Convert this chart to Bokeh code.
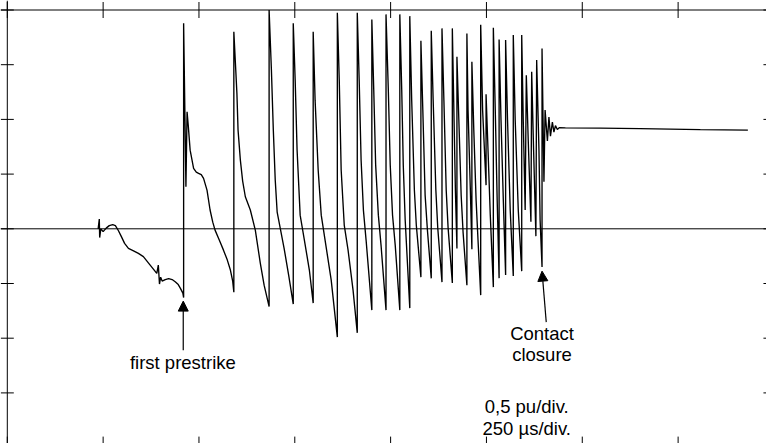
import math
from bokeh.plotting import figure
from bokeh.models import Range1d, Span, Arrow, NormalHead, Label
from bokeh.embed import file_html
from bokeh.resources import INLINE

# time in microseconds, voltage in pu
t_us = [237, 240, 241, 244, 250, 258, 266, 275, 282, 290, 297, 306, 316, 328, 342, 355, 368, 379, 390, 394,
        397, 400, 404, 412, 421, 430, 438, 446, 452, 458, 460,
        460, 466, 469, 472, 477, 486, 493, 499, 506, 512, 521, 529, 536, 542, 553, 564, 574, 582, 588, 591,
        591, 596, 599, 602, 608, 614, 621, 634, 647, 660, 670, 683,
        683, 689, 694, 699, 704, 712, 722, 734, 746,
        746, 751, 756, 764, 775, 788, 798,
        798, 803, 811, 819, 829, 845, 861,
        861, 866, 871, 879, 889, 902, 913,
        913, 918, 923, 929, 936, 951,
        951, 956, 961, 968, 975, 988,
        988, 994, 999, 1005, 1012, 1024,
        1024, 1029, 1033, 1038, 1050,
        1050, 1055, 1062, 1067, 1079,
        1079, 1084, 1090, 1096, 1106,
        1106, 1111, 1118, 1123, 1134,
        1134, 1139, 1145, 1150, 1161,
        1161, 1165, 1169, 1173,
        1173, 1178, 1184, 1189, 1199,
        1199, 1202, 1208, 1212,
        1212, 1217, 1223, 1228, 1235,
        1235, 1240, 1249,
        1249, 1255, 1260, 1268,
        1268, 1273, 1278, 1283,
        1283, 1288, 1294, 1300,
        1300, 1305, 1312, 1320,
        1320, 1325, 1333, 1342,
        1342, 1346, 1351,
        1354, 1359, 1366,
        1368, 1373, 1379,
        1381, 1387, 1390, 1395,
        1395, 1400, 1403, 1409, 1413, 1417, 1422, 1426, 1430, 1435, 1440, 1456, 1547, 1651, 1808, 1932]
v_pu = [0.0, 0.09, -0.08, 0.0, -0.026, 0.006, 0.029, 0.038, 0.029, -0.018, -0.067, -0.133, -0.179, -0.199, -0.225, -0.254, -0.311, -0.359, -0.408, -0.332,
        -0.505, -0.442, -0.478, -0.464, -0.455, -0.464, -0.484, -0.510, -0.547, -0.588, -0.629,
        1.878, 0.384, 1.069, 0.948, 0.719, 0.552, 0.518, 0.506, 0.495, 0.461, 0.354, 0.172, 0.061, -0.012, -0.103, -0.195, -0.286, -0.377, -0.478, -0.579,
        1.801, 1.451, 1.238, 0.902, 0.628, 0.436, 0.293, 0.172, -0.012, -0.313, -0.515, -0.711,
        2.0, 1.451, 0.902, 0.445, 0.153, 0.006, -0.176, -0.423, -0.688,
        1.878, 1.359, 0.719, 0.125, -0.103, -0.377, -0.679,
        1.801, 1.176, 0.537, 0.125, -0.103, -0.469, -0.990,
        1.974, 1.359, 0.537, 0.034, -0.195, -0.560, -0.951,
        1.974, 1.359, 0.628, 0.171, -0.103, -0.743,
        1.914, 1.268, 0.582, 0.125, -0.149, -0.743,
        1.960, 1.268, 0.582, 0.125, -0.149, -0.743,
        1.960, 1.268, 0.582, 0.080, -0.725,
        1.944, 1.176, 0.353, 0.034, -0.442,
        1.719, 1.085, 0.308, -0.012, -0.453,
        1.810, 1.176, 0.354, 0.006, -0.487,
        1.832, 1.176, 0.354, 0.006, -0.496,
        1.832, 1.085, 0.354, -0.179,
        1.572, 0.994, 0.308, -0.030, -0.515,
        1.786, 1.085, 0.354, -0.186,
        1.527, 0.902, 0.262, -0.103, -0.606,
        1.865, 1.085, 0.399,
        1.229, 0.628, 0.125, -0.533,
        1.837, 1.085, 0.262, -0.451,
        1.731, 0.994, 0.262, -0.423,
        1.725, 0.994, 0.171, -0.432,
        1.771, 0.994, 0.171, -0.387,
        1.771, 0.994, 0.171,
        1.404, 0.810, 0.064,
        1.435, 0.719, -0.067,
        1.542, 0.719, 0.080, -0.350,
        1.649, 0.430, 1.085, 0.802, 1.021, 0.847, 0.975, 0.884, 0.943, 0.907, 0.925, 0.923, 0.920, 0.916, 0.907, 0.902]

x_ticks = [0, 250, 500, 750, 1000, 1250, 1500, 1750, 2000]
y_ticks = [-2.0, -1.5, -1.0, -0.5, 0.0, 0.5, 1.0, 1.5, 2.0]

FONT = "Liberation Sans"
W, H = 766, 443
US_PER_PX = 250 / 95.83      # 250 us per division
PU_PER_PX = 0.5 / 54.7       # 0.5 pu per division
X0 = -6.8 * US_PER_PX
Y1 = 2.0 + 9.5 * PU_PER_PX
xr = Range1d(X0, X0 + W * US_PER_PX)
yr = Range1d(Y1 - H * PU_PER_PX, Y1)

p = figure(width=W, height=H, output_backend="svg", toolbar_location=None,
           x_range=xr, y_range=yr, x_axis_location=None, y_axis_location=None,
           min_border_left=0, min_border_top=0, min_border_right=0, min_border_bottom=0)
p.grid.visible = False
p.outline_line_color = None
p.background_fill_color = "white"
p.border_fill_color = "white"

# frame (left and top sides; right and bottom lie outside the view), zero line
p.add_layout(Span(location=x_ticks[0], dimension="height", line_color="black", line_width=1))
p.add_layout(Span(location=y_ticks[-1], dimension="width", line_color="black", line_width=1))
p.add_layout(Span(location=0, dimension="width", line_color="black", line_width=1))

# inward tick marks on all four sides
p.scatter([x_ticks[0]] * len(y_ticks), y_ticks, marker="dash", size=13, line_color="black", line_width=1)
p.scatter(x_ticks, [y_ticks[-1]] * len(x_ticks), marker="dash", angle=math.pi / 2, size=16,
          line_color="black", line_width=1)
p.scatter([x_ticks[-1]] * len(y_ticks), y_ticks, marker="dash", size=21, line_color="black", line_width=1)
p.scatter(x_ticks, [y_ticks[0]] * len(x_ticks), marker="dash", angle=math.pi / 2, size=22,
          line_color="black", line_width=1)

p.line(t_us, v_pu, line_color="black", line_width=1.35)

p.add_layout(Arrow(end=NormalHead(size=10, fill_color="black", line_color="black"),
                   x_start=459, y_start=-1.110, x_end=459, y_end=-0.661,
                   line_color="black", line_width=1.2))
p.add_layout(Arrow(end=NormalHead(size=10, fill_color="black", line_color="black"),
                   x_start=1406, y_start=-0.853, x_end=1395, y_end=-0.387,
                   line_color="black", line_width=1.2))

labels = [("first prestrike", 458, -1.222), ("Contact", 1395, -0.957), ("closure", 1395, -1.149),
          ("0,5 pu/div.", 1355, -1.627), ("250 µs/div.", 1355, -1.826)]
for txt, lx, ly in labels:
    p.add_layout(Label(x=lx, y=ly, text=txt, text_align="center", text_baseline="alphabetic",
                       text_font=FONT, text_font_size="18.5px", text_color="black"))

open("out.html", "w").write(file_html(p, INLINE))
